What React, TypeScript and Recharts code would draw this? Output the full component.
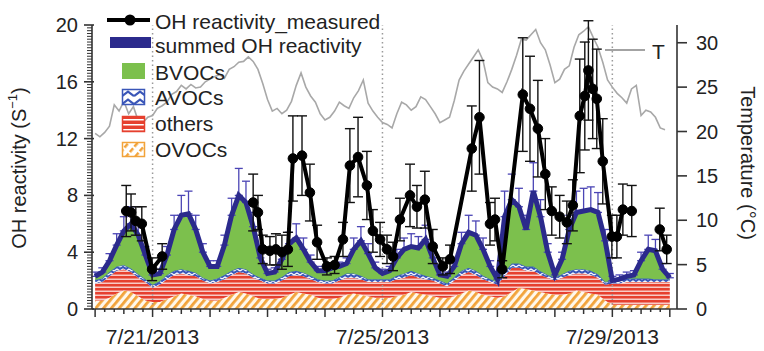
import React from 'react';
import { ComposedChart, Area, Line, XAxis, YAxis, ErrorBar, ReferenceLine } from 'recharts';

const FONT = '"Liberation Sans", Arial, Helvetica, sans-serif';

// model output, every 3 h starting 7/20/2013 00:00 (s-1)
const summed = [
  2.3, 2.6, 3.4, 4.5, 5.5, 6.0, 5.2, 3.8,
  2.4, 2.5, 3.8, 5.6, 6.6, 6.7, 5.6, 4.0,
  3.0, 3.0, 4.5, 6.6, 8.0, 7.5, 5.8, 3.6,
  2.5, 2.6, 3.5, 4.6, 5.0, 4.2, 3.3, 2.7,
  2.7, 2.9, 3.0, 3.2, 4.2, 4.8, 3.9, 2.9,
  2.5, 2.7, 3.6, 4.2, 4.4, 4.3, 4.9, 3.6,
  2.4, 2.3, 3.0, 4.6, 5.4, 5.2, 4.2, 3.0,
  2.1, 6.5, 7.7, 7.2, 5.6, 8.3, 6.5, 4.0,
  2.4, 3.5, 5.6, 6.8, 6.9, 7.0, 6.8, 4.8,
  2.0, 2.1, 2.3, 2.4, 3.4, 4.2, 4.1, 2.8,
  2.2,
];
const summedErr = [
  0.3, 0.3, 0.5, 0.8, 1.0, 1.2, 1.0, 0.6,
  0.3, 0.3, 0.6, 1.0, 1.4, 1.6, 1.0, 0.6,
  0.4, 0.4, 0.7, 1.2, 1.9, 1.5, 1.0, 0.6,
  0.3, 0.3, 0.5, 0.8, 1.0, 0.8, 0.5, 0.3,
  0.3, 0.3, 0.3, 0.4, 0.8, 1.0, 0.7, 0.4,
  0.3, 0.3, 0.6, 0.8, 0.9, 0.8, 1.0, 0.6,
  0.3, 0.3, 0.4, 0.8, 1.2, 1.0, 0.8, 0.4,
  0.3, 1.8, 1.8, 1.3, 1.0, 2.0, 1.2, 0.6,
  0.3, 0.5, 1.0, 1.5, 1.6, 1.6, 1.4, 0.8,
  0.3, 0.3, 0.3, 0.3, 0.6, 1.0, 0.8, 0.4,
  0.3,
];
const ovocs = [
  0.6, 0.6, 0.8, 1.1, 1.3, 1.2, 0.9, 0.6,
  0.5, 0.5, 0.7, 0.9, 1.1, 1.0, 0.9, 0.7,
  0.6, 0.6, 0.8, 1.0, 1.2, 1.1, 0.9, 0.7,
  0.7, 0.7, 0.8, 1.0, 1.2, 1.1, 1.0, 0.8,
  0.7, 0.7, 0.8, 1.0, 1.1, 1.0, 0.9, 0.8,
  0.8, 0.8, 0.9, 1.0, 1.2, 1.1, 1.0, 0.9,
  0.8, 0.8, 0.9, 1.1, 1.3, 1.2, 1.0, 0.9,
  0.8, 0.9, 1.2, 1.5, 1.4, 1.3, 1.2, 1.1,
  1.0, 1.0, 1.1, 1.3, 1.2, 1.1, 1.0, 0.6,
  0.3, 0.3, 0.3, 0.3, 0.3, 0.3, 0.3, 0.3,
  0.3,
];
const others = [
  1.2, 1.3, 1.5, 1.6, 1.5, 1.4, 1.3, 1.3,
  1.0, 1.2, 1.4, 1.5, 1.4, 1.4, 1.4, 1.3,
  1.2, 1.3, 1.3, 1.4, 1.4, 1.4, 1.3, 1.3,
  1.1, 1.1, 1.2, 1.3, 1.2, 1.2, 1.1, 1.1,
  1.1, 1.1, 1.2, 1.2, 1.1, 1.1, 1.0, 1.1,
  1.1, 1.1, 1.2, 1.2, 1.2, 1.1, 1.1, 1.1,
  1.0, 0.8, 1.1, 1.3, 1.3, 1.2, 1.1, 1.0,
  0.9, 1.4, 1.7, 1.4, 1.3, 1.4, 1.2, 1.1,
  1.0, 1.2, 1.3, 1.2, 1.3, 1.3, 1.2, 1.1,
  1.5, 1.5, 1.6, 1.6, 1.6, 1.6, 1.6, 1.6,
  1.6,
];
const avocs = [
  0.25, 0.25, 0.3, 0.3, 0.3, 0.25, 0.25, 0.2,
  0.2, 0.25, 0.3, 0.3, 0.3, 0.3, 0.25, 0.2,
  0.2, 0.25, 0.3, 0.3, 0.3, 0.3, 0.25, 0.2,
  0.2, 0.2, 0.25, 0.3, 0.3, 0.25, 0.25, 0.2,
  0.2, 0.2, 0.25, 0.3, 0.3, 0.25, 0.2, 0.2,
  0.2, 0.2, 0.25, 0.3, 0.3, 0.3, 0.25, 0.2,
  0.2, 0.2, 0.25, 0.3, 0.3, 0.3, 0.25, 0.2,
  0.2, 0.3, 0.3, 0.3, 0.3, 0.3, 0.25, 0.2,
  0.2, 0.25, 0.3, 0.3, 0.3, 0.3, 0.25, 0.2,
  0.2, 0.2, 0.25, 0.25, 0.25, 0.25, 0.2, 0.2,
  0.2,
];

// measured OH reactivity, hours after 7/20/2013 00:00; null marks a gap
const measHours = [
  13, 15, 17, 19.5, 23.8, 28,
  40,
  66, 68, 70, 73, 75.5, 78, 80.5, 82.6, 86.4, 89.7, 92.7, 96.8, 100,
  103.5, 106.4, 109.8, 113.5, 116, 119, 121.9, 124.4, 127.3, 131.5, 134.4, 137.7,
  141, 145.2, 148.2, 157.3, 160.5, 164.9, 167, 170, 178.6, 181.6, 184.9, 188,
  190.7, 194, 197, 199.5, 202.4, 204.5, 206, 207.8, 209.5, 212, 215.8, 217.9,
  220.4, 224.1,
  230,
  235.8, 238.7,
];
const measValues = [
  6.9, 6.8, 6.2, 6.0, 2.8, 3.7,
  null,
  7.5, 6.8, 4.2, 4.1, 4.2, 4.0, 4.2, 10.6, 10.8, 8.2, 4.7, 3.0, 3.1,
  4.9, 10.1, 10.7, 8.7, 5.5, 4.9, 4.2, 3.7, 6.3, 8.0, 7.2, 7.7,
  4.4, 3.0, 3.5, 11.3, 13.5, 6.0, 6.3, 2.8, 15.1, 14.1, 12.7, 9.5,
  6.9, 6.5, 6.1, 7.3, 13.6, 15.0, 16.8, 15.5, 14.8, 10.4, 5.1, 5.1,
  7.0, 6.9,
  null,
  5.6, 4.2,
];
const measErr = [
  1.8, 1.3, 1.0, 1.2, 0.8, 0.9,
  null,
  2.0, 1.2, 1.0, 1.0, 1.1, 1.2, 1.2, 3.0, 2.8, 2.0, 1.2, 0.6, 0.6,
  1.2, 2.6, 2.8, 2.4, 1.5, 1.2, 1.0, 1.0, 1.5, 2.2, 1.5, 2.0,
  1.2, 0.6, 1.0, 3.0, 4.0, 1.5, 1.5, 0.6, 4.0, 3.7, 3.4, 2.5,
  1.7, 1.5, 1.5, 1.8, 4.0, 3.8, 3.5, 3.5, 3.5, 3.0, 1.5, 1.5,
  1.8, 1.8,
  null,
  1.5, 1.0,
];

// air temperature (°C), every 2 h
const temperature = [
  19.8, 19.4, 19.9, 20.6, 23.0, 22.3, 23.4, 22.0, 22.8, 21.2, 21.0, 21.6,
  21.8, 22.6, 22.9, 23.3, 24.2, 24.5, 25.2, 24.8, 25.3, 24.9, 25.0, 25.6,
  25.9, 26.2, 26.4, 26.0, 27.0, 27.3, 27.8, 27.9, 28.4, 27.9, 27.0, 25.4,
  23.6, 22.3, 22.6, 22.0, 22.4, 23.4, 25.2, 26.6, 25.0, 24.0, 23.3, 22.0,
  21.3, 21.6, 22.3, 23.3, 22.9, 22.6, 23.8, 24.6, 25.8, 23.2, 22.3, 21.6,
  21.0, 20.8, 20.4, 22.0, 23.3, 23.0, 22.4, 22.8, 23.9, 23.6, 22.8, 22.0,
  21.0, 21.3, 21.6, 23.5, 25.8, 26.8, 27.6, 28.4, 29.2, 28.0, 25.5, 25.0,
  24.8, 24.4, 25.6, 27.0, 28.6, 30.4, 30.3, 30.9, 31.5, 30.0, 29.2, 27.5,
  25.5, 25.9, 27.0, 27.4, 29.5, 30.9, 31.3, 31.8, 30.6, 29.5, 27.8, 25.8,
  25.0, 24.3, 23.8, 23.2, 24.8, 25.2, 21.8, 22.4, 22.2, 21.6, 20.4, 20.2,
];

const dateTicks = [24, 120, 216];
const dateLabels = ['7/21/2013', '7/25/2013', '7/29/2013'];
const leftLabels = [0, 4, 8, 12, 16, 20];
const rightLabels = [0, 5, 10, 15, 20, 25, 30];

const modelData = summed.map((s, i) => ({
  h: i * 3,
  ovocs: ovocs[i],
  others: others[i],
  avocs: avocs[i],
  bvocs: Math.max(0, +(s - ovocs[i] - others[i] - avocs[i]).toFixed(2)),
  summed: s,
  summedErr: [0, summedErr[i]],
}));

const measSegments: { h: number; v: number; e: number }[][] = [];
let seg: { h: number; v: number; e: number }[] = [];
measHours.forEach((h, i) => {
  const v = measValues[i];
  if (v == null) {
    if (seg.length) measSegments.push(seg);
    seg = [];
  } else seg.push({ h, v, e: measErr[i] as number });
});
if (seg.length) measSegments.push(seg);

const tempData = temperature.map((T, i) => ({ h: i * 2, T }));

const xTicks = Array.from({ length: 61 }, (_, i) => i * 4);
const leftTicks = Array.from({ length: 101 }, (_, i) => i / 5);

const AX = '#333';
const TXT = '#222';

const LeftTick = (props: any) => {
  const { x, y, payload } = props;
  const v = payload.value;
  const major = leftLabels.some((m) => Math.abs(m - v) < 1e-6);
  return (
    <g>
      <line x1={major ? x - 8 : x - 5} x2={major ? x + 2 : x} y1={y} y2={y} stroke={AX} strokeWidth={major ? 1.6 : 1} />
      {major && (
        <text x={x - 14} y={y} textAnchor="end" dominantBaseline="central" fontSize={20} fill={TXT} fontFamily={FONT}>
          {Math.round(v)}
        </text>
      )}
    </g>
  );
};

const RightTick = (props: any) => {
  const { x, y, payload } = props;
  return (
    <g>
      <line x1={x} x2={x + 10} y1={y} y2={y} stroke={AX} strokeWidth={1.6} />
      <text x={x + 19} y={y} textAnchor="start" dominantBaseline="central" fontSize={20} fill={TXT} fontFamily={FONT}>
        {payload.value}
      </text>
    </g>
  );
};

const XTick = (props: any) => {
  const { x, y, payload } = props;
  const h = payload.value;
  const len = h % 24 === 0 ? 8 : h % 12 === 0 ? 5 : 3;
  const idx = dateTicks.indexOf(h);
  return (
    <g>
      <line x1={x} x2={x} y1={y} y2={y + len} stroke={AX} strokeWidth={1.5} />
      {idx >= 0 && (
        <text x={x} y={y + 35} textAnchor="middle" fontSize={21} fill={TXT} fontFamily={FONT}>
          {dateLabels[idx]}
        </text>
      )}
    </g>
  );
};

const legendRows = [
  { key: 'meas', label: 'OH reactivity_measured', y: 21 },
  { key: 'sum', label: 'summed OH reactivity', y: 45 },
  { key: 'bvoc', label: 'BVOCs', y: 72 },
  { key: 'avoc', label: 'AVOCs', y: 97 },
  { key: 'oth', label: 'others', y: 123 },
  { key: 'ovoc', label: 'OVOCs', y: 149 },
];

const Overlay = () => (
  <svg width={764} height={351} style={{ position: 'absolute', left: 0, top: 0, pointerEvents: 'none' }}>
    <defs>
      <pattern id="lOthers" width="6" height="5" patternUnits="userSpaceOnUse" y="1">
        <rect width="6" height="5" fill="#e6402f" />
        <rect y="3" width="6" height="1.5" fill="#fff" />
      </pattern>
      <pattern id="lAvoc" width="12" height="8" patternUnits="userSpaceOnUse" x="122" y="90">
        <rect width="12" height="8" fill="#fff" />
        <polyline points="0,6 6,1.5 12,6" fill="none" stroke="#3a56b8" strokeWidth="2.2" />
      </pattern>
      <pattern id="lOvoc" width="7" height="7" patternUnits="userSpaceOnUse" patternTransform="rotate(40)">
        <rect width="7" height="7" fill="#fff" />
        <rect width="2.5" height="5" fill="#f2a33a" />
      </pattern>
    </defs>
    {/* legend */}
    <line x1={107} x2={150} y1={20} y2={20} stroke="#000" strokeWidth={4} />
    <circle cx={130} cy={20} r={5.5} fill="#000" />
    <rect x={110} y={37} width={41} height={11} fill="#2b2a8c" />
    <rect x={122} y={63} width={23} height={16} fill="#7cc04d" />
    <rect x={122.5} y={89.5} width={22} height={15} fill="url(#lAvoc)" stroke="#3a56b8" strokeWidth={1.5} />
    <rect x={122.5} y={116.5} width={22} height={15} fill="url(#lOthers)" stroke="#e6402f" strokeWidth={1.5} />
    <rect x={122.5} y={142.5} width={22} height={14} fill="url(#lOvoc)" stroke="#f2a33a" strokeWidth={1.5} />
    {legendRows.map((r) => (
      <text key={r.key} x={155} y={r.y} dominantBaseline="central" fontSize={21} fill={TXT} fontFamily={FONT}>
        {r.label}
      </text>
    ))}
    {/* temperature key */}
    <line x1={605} x2={645} y1={50} y2={50} stroke="#a3a3a3" strokeWidth={2} />
    <text x={652} y={51} dominantBaseline="central" fontSize={21} fill={TXT} fontFamily={FONT}>T</text>
    {/* axis titles */}
    <text
      transform="translate(19,168) rotate(-90)"
      textAnchor="middle"
      dominantBaseline="central"
      fontSize={20}
      fill={TXT}
      fontFamily={FONT}
    >
      OH reactivity (S<tspan dy={-7} fontSize={13}>−1</tspan><tspan dy={7}>)</tspan>
    </text>
    <text
      transform="translate(748,163) rotate(90)"
      textAnchor="middle"
      dominantBaseline="central"
      fontSize={20}
      fill={TXT}
      fontFamily={FONT}
    >
      Temperature (°C)
    </text>
  </svg>
);

export default function App() {
  return (
    <div style={{ position: 'absolute', left: 0, top: 0, width: 764, height: 351, background: '#fff' }}>
      <ComposedChart width={764} height={351} data={modelData} margin={{ top: 25, right: 0, bottom: 0, left: 0 }}>
        <defs>
          <pattern id="pOthers" width="6" height="4" patternUnits="userSpaceOnUse">
            <rect width="6" height="4" fill="#e6402f" />
            <rect y="2.6" width="6" height="1.2" fill="#fff" opacity={0.9} />
          </pattern>
          <pattern id="pOvoc" width="6" height="6" patternUnits="userSpaceOnUse" patternTransform="rotate(40)">
            <rect width="6" height="6" fill="#fff8ec" />
            <rect width="2.8" height="6" fill="#f2a33a" />
          </pattern>
          <pattern id="pAvoc" width="6" height="4" patternUnits="userSpaceOnUse">
            <rect width="6" height="4" fill="#3a56b8" />
            <polyline points="0,3 3,1 6,3" fill="none" stroke="#fff" strokeWidth={1.2} />
          </pattern>
        </defs>
        <XAxis
          dataKey="h"
          type="number"
          domain={[-1.3, 243]}
          ticks={xTicks}
          interval={0}
          height={42}
          tickSize={0}
          tickMargin={0}
          tickLine={false}
          tick={(p: any) => <XTick {...p} />}
          axisLine={{ stroke: AX, strokeWidth: 1.6 }}
          allowDataOverflow
        />
        <YAxis
          yAxisId="left"
          width={92}
          domain={[0, 20]}
          ticks={leftTicks}
          interval={0}
          tickSize={0}
          tickMargin={0}
          tickLine={false}
          tick={(p: any) => <LeftTick {...p} />}
          axisLine={{ stroke: AX, strokeWidth: 1.6 }}
          allowDataOverflow
        />
        <YAxis
          yAxisId="right"
          orientation="right"
          width={87}
          domain={[0, 32]}
          ticks={rightLabels}
          interval={0}
          tickSize={0}
          tickMargin={0}
          tickLine={false}
          tick={(p: any) => <RightTick {...p} />}
          axisLine={{ stroke: AX, strokeWidth: 1.6 }}
          allowDataOverflow
        />
        {dateTicks.map((d) => (
          <ReferenceLine key={d} x={d} yAxisId="left" stroke="#9a9a9a" strokeWidth={1.5} strokeDasharray="1.5 3" />
        ))}
        <Area yAxisId="left" type="linear" dataKey="ovocs" stackId="s" fill="url(#pOvoc)" fillOpacity={1} stroke="none" isAnimationActive={false} />
        <Area yAxisId="left" type="linear" dataKey="others" stackId="s" fill="url(#pOthers)" fillOpacity={1} stroke="none" isAnimationActive={false} />
        <Area yAxisId="left" type="linear" dataKey="avocs" stackId="s" fill="url(#pAvoc)" fillOpacity={1} stroke="#3a6ab8" strokeWidth={1.2} isAnimationActive={false} />
        <Area yAxisId="left" type="linear" dataKey="bvocs" stackId="s" fill="#7cc04d" fillOpacity={1} stroke="none" isAnimationActive={false} />
        <Line yAxisId="right" data={tempData} dataKey="T" type="linear" stroke="#a8a8a8" strokeWidth={1.6} dot={false} isAnimationActive={false} />
        <Line yAxisId="left" dataKey="summed" type="linear" stroke="#2b2a8c" strokeWidth={5} dot={false} isAnimationActive={false}>
          <ErrorBar dataKey="summedErr" direction="y" width={4} stroke="#4b45b5" strokeWidth={1.3} />
        </Line>
        {measSegments.map((s, i) => (
          <Line
            key={i}
            yAxisId="left"
            data={s}
            dataKey="v"
            type="linear"
            stroke="#000"
            strokeWidth={4}
            dot={{ r: 4.8, fill: '#000', stroke: '#000', strokeWidth: 1 }}
            isAnimationActive={false}
          >
            <ErrorBar dataKey="e" direction="y" width={5} stroke="#111" strokeWidth={1.4} />
          </Line>
        ))}
      </ComposedChart>
      <Overlay />
    </div>
  );
}
